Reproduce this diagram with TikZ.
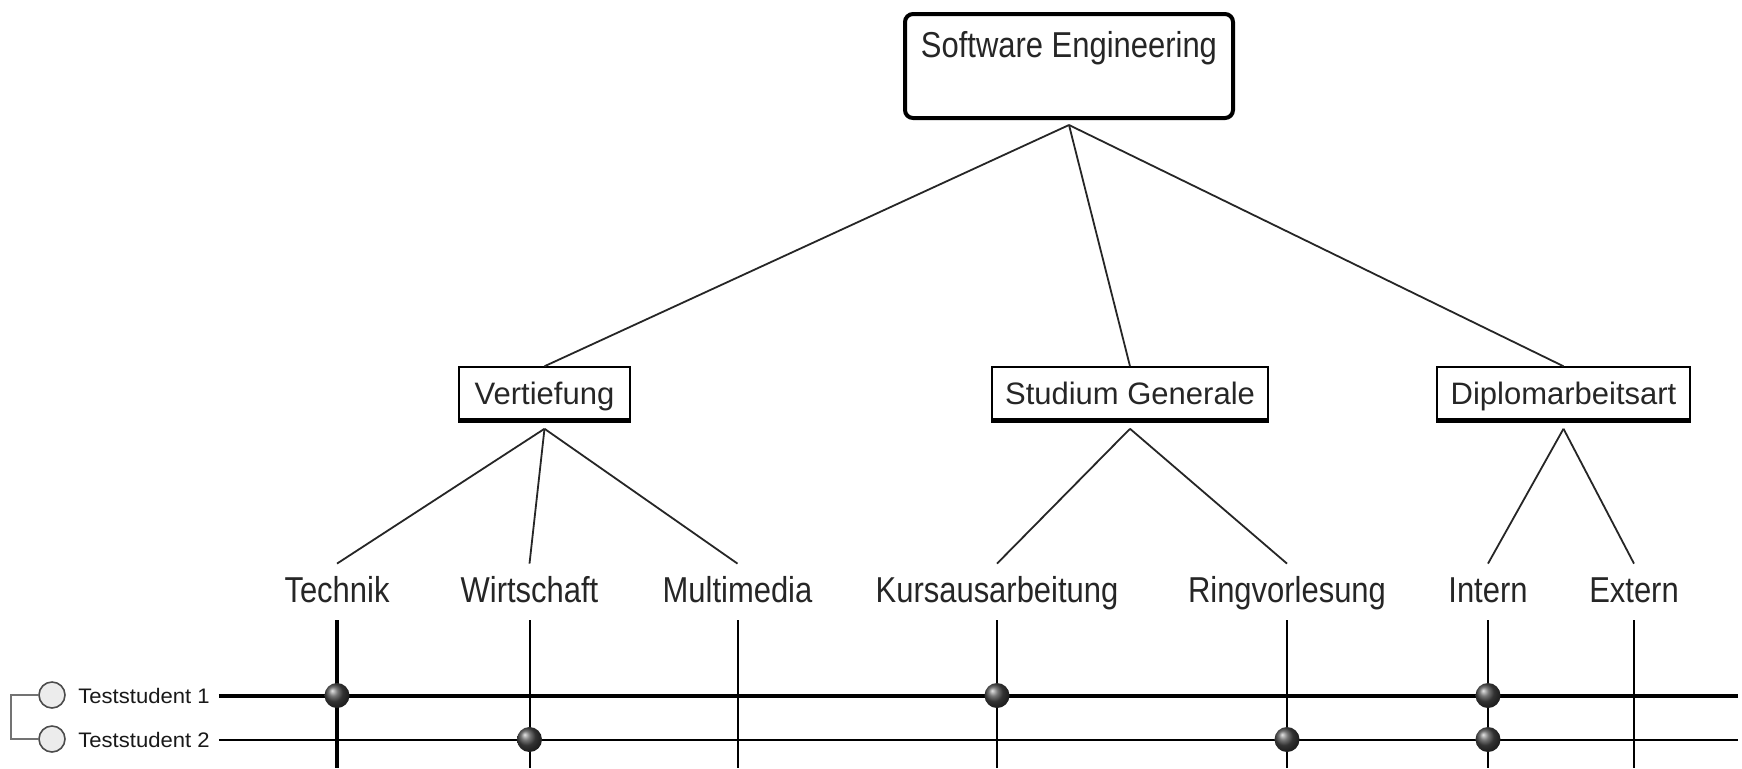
\documentclass[tikz,border=0pt]{standalone}
\usepackage{fontspec}
\setmainfont{Liberation Sans}
\newfontfamily\condfont{Liberation Sans}[FakeStretch=0.86]
\newfontfamily\smallfont{Liberation Sans}[FakeStretch=1.05]
\usetikzlibrary{calc,shadings}
\tikzset{
  conn/.style={draw=black!85, line width=0.9pt},
  thinline/.style={draw=black, line width=1pt},
  thickline/.style={draw=black, line width=2pt},
  rootbox/.style={draw=black, line width=2pt, rounded corners=4pt, minimum width=164pt,
    text height=13.5pt, text depth=22.5pt, inner ysep=8pt, inner xsep=0pt,
    font=\condfont\fontsize{18}{18}\selectfont, text=black!85},
  catbox/.style={draw=black, line width=0.75pt, minimum height=26pt, inner xsep=0pt,
    text height=11pt, text depth=0pt, font=\fontsize{15.5}{15.5}\selectfont, text=black!85},
  shadowline/.style={draw=black, line width=2pt},
  leaf/.style={text height=13.5pt, text depth=3.5pt, inner ysep=5.5pt, inner xsep=0pt,
    anchor=base, font=\condfont\fontsize{18}{18}\selectfont, text=black!85},
  student/.style={anchor=base west, inner xsep=4.5pt, inner ysep=0pt, text height=7.5pt, text depth=0pt,
    font=\smallfont\fontsize{10.5}{10.5}\selectfont, text=black!90},
  selcircle/.style={circle, draw=black!70, fill=gray!15, minimum size=13pt, inner sep=0pt, line width=0.8pt},
  bracket/.style={draw=black!55, line width=1pt},
  dot/.style={circle, minimum size=12.5pt, inner sep=0pt, shading=ball, ball color=black!72},
}
\begin{document}
\begin{tikzpicture}[x=0.5pt,y=-0.5pt]
\useasboundingbox (0,0) rectangle (1742,768);
\fill[white] (0,0) rectangle (1742,768);

% root
\node[rootbox] (root) at (1069,66) {Software Engineering};
\coordinate (rootapex) at ($(root.south)+(0,5)$);

% categories
\node[catbox, minimum width=85.5pt] (vert) at (544.5,393) {Vertiefung};
\node[catbox, minimum width=138pt] (stud) at (1130,393) {Studium Generale};
\node[catbox, minimum width=126.5pt] (dipl) at (1563.5,393) {Diplomarbeitsart};
\foreach \b in {vert,stud,dipl}{
  \draw[shadowline] ($(\b.south west)+(0,1.5)$) -- ($(\b.south east)+(0,1.5)$);
  \coordinate (\b apex) at ($(\b.south)+(0,9)$);
}

% leaves
\node[leaf] (tech) at (337,602) {Technik};
\node[leaf] (wirt) at (529.5,602) {Wirtschaft};
\node[leaf] (mult) at (737.5,602) {Multimedia};
\node[leaf] (kurs) at (997,602) {Kursausarbeitung};
\node[leaf] (ring) at (1287,602) {Ringvorlesung};
\node[leaf] (intern) at (1488,602) {Intern};
\node[leaf] (extern) at (1634,602) {Extern};

% tree connectors
\draw[conn] (rootapex) -- (vert.north);
\draw[conn] (rootapex) -- (stud.north);
\draw[conn] (rootapex) -- (dipl.north);
\draw[conn] (vertapex) -- (tech.north);
\draw[conn] (vertapex) -- (wirt.north);
\draw[conn] (vertapex) -- (mult.north);
\draw[conn] (studapex) -- (kurs.north);
\draw[conn] (studapex) -- (ring.north);
\draw[conn] (diplapex) -- (intern.north);
\draw[conn] (diplapex) -- (extern.north);

% students
\node[selcircle] (c1) at (52,695) {};
\node[selcircle] (c2) at (52,739) {};
\node[student] (t1) at (69,703) {Teststudent 1};
\node[student] (t2) at (69,747) {Teststudent 2};
\draw[bracket] (c1.west) -- ++(-27,0) |- (c2.west);

\coordinate (bot) at (0,768);
\coordinate (rend) at (1738,0);

% vertical lines
\draw[thickline] (tech.south) -- (tech.south |- bot);
\foreach \l in {wirt,mult,kurs,ring,intern,extern}{
  \draw[thinline] (\l.south) -- (\l.south |- bot);
}
% horizontal lines
\draw[thickline] (t1.east) -- (t1.east -| rend);
\draw[thinline] (t2.east) -- (t2.east -| rend);

% selections
\node[dot] (s11) at (tech.south |- t1.east) {};
\node[dot] (s12) at (kurs.south |- t1.east) {};
\node[dot] (s13) at (intern.south |- t1.east) {};
\node[dot] (s21) at (wirt.south |- t2.east) {};
\node[dot] (s22) at (ring.south |- t2.east) {};
\node[dot] (s23) at (intern.south |- t2.east) {};
\end{tikzpicture}
\end{document}
